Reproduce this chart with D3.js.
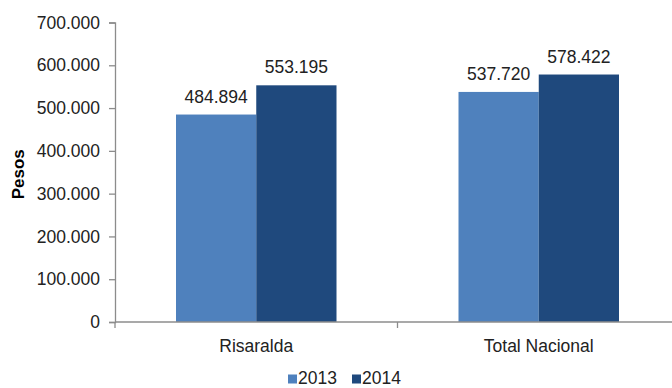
<!DOCTYPE html>
<html>
<head>
<meta charset="utf-8">
<script src="https://cdn.jsdelivr.net/npm/d3@7"></script>
<style>
  html, body { margin: 0; padding: 0; background: #fff; }
  svg { display: block; font-family: "Liberation Sans", Arial, sans-serif; }
</style>
</head>
<body>
<svg id="chart" width="672" height="388"></svg>
<script>
// Average values in pesos by territory and year
const categories = ["Risaralda", "Total Nacional"];
const years = ["2013", "2014"];
const values2013 = [484894, 537720];
const values2014 = [553195, 578422];
const yTicks = [0, 100000, 200000, 300000, 400000, 500000, 600000, 700000];
const colors = ["#4F81BD", "#1F497D"];

const svg = d3.select("#chart");
const margin = { left: 115, right: -8, top: 22.5, bottom: 66 };
const W = 672, H = 388;
const innerW = W - margin.left - margin.right;
const innerH = H - margin.top - margin.bottom;
const FS = 17.5;
const textColor = "#222";
const axisColor = "#8c8c8c";

const fmt = v => d3.format(",")(v).replace(/,/g, ".");

const x = d3.scaleBand().domain(categories).range([0, innerW]).paddingInner(0).paddingOuter(0);
const xs = d3.scaleBand().domain(years).range([61, x.bandwidth() - 61]);
const y = d3.scaleLinear().domain([0, 700000]).range([innerH, 0]);

const g = svg.append("g").attr("transform", `translate(${margin.left},${margin.top})`);

const series = [values2013, values2014];
const rows = categories.map((c, i) => ({ cat: c, vals: years.map((yr, j) => ({ year: yr, v: series[j][i], j })) }));

const groups = g.selectAll(".grp").data(rows).join("g")
  .attr("transform", d => `translate(${x(d.cat)},0)`);

groups.selectAll("rect").data(d => d.vals).join("rect")
  .attr("x", d => xs(d.year))
  .attr("width", xs.bandwidth())
  .attr("y", d => y(d.v))
  .attr("height", d => innerH - y(d.v))
  .attr("fill", d => colors[d.j]);

groups.selectAll("text.val").data(d => d.vals).join("text")
  .attr("class", "val")
  .attr("x", d => xs(d.year) + xs.bandwidth() / 2)
  .attr("y", d => y(d.v) - 12)
  .attr("text-anchor", "middle")
  .attr("font-size", FS)
  .attr("fill", textColor)
  .text(d => fmt(d.v));

// Y axis
const yAxis = g.append("g").call(d3.axisLeft(y).tickValues(yTicks).tickSize(6).tickPadding(9).tickFormat(d => d === 0 ? "0" : fmt(d)));
yAxis.select(".domain").attr("stroke", axisColor).attr("stroke-width", 1.3);
yAxis.selectAll(".tick line").attr("stroke", axisColor).attr("stroke-width", 1.3);
yAxis.selectAll(".tick text").attr("font-size", FS).attr("fill", textColor).attr("font-family", "Liberation Sans, Arial, sans-serif");

// X axis with category boundary ticks
const xAxis = g.append("g").attr("transform", `translate(0,${innerH})`);
xAxis.append("line").attr("x1", 0).attr("x2", innerW).attr("stroke", axisColor).attr("stroke-width", 1.3);
xAxis.selectAll("line.b").data(categories).join("line")
  .attr("class", "b")
  .attr("x1", d => x(d)).attr("x2", d => x(d))
  .attr("y1", 0).attr("y2", 6)
  .attr("stroke", axisColor).attr("stroke-width", 1.3);
xAxis.selectAll("text").data(categories).join("text")
  .attr("x", d => x(d) + x.bandwidth() / 2)
  .attr("y", 29.5)
  .attr("text-anchor", "middle")
  .attr("font-size", FS)
  .attr("fill", textColor)
  .text(d => d);

// Y axis title
svg.append("text")
  .attr("transform", `translate(24,${margin.top + innerH / 2 + 2}) rotate(-90)`)
  .attr("text-anchor", "middle")
  .attr("font-size", 17)
  .attr("font-weight", "bold")
  .attr("fill", "#000")
  .text("Pesos");

// Legend
const legend = svg.append("g").attr("transform", "translate(288,383.5)");
const items = legend.selectAll("g").data(years).join("g")
  .attr("transform", (d, i) => `translate(${i * 64},0)`);
items.append("rect").attr("x", 0).attr("y", -9).attr("width", 9).attr("height", 9)
  .attr("fill", (d, i) => colors[i]);
items.append("text").attr("x", 10).attr("y", 0).attr("font-size", FS).attr("fill", textColor).text(d => d);
</script>
</body>
</html>
